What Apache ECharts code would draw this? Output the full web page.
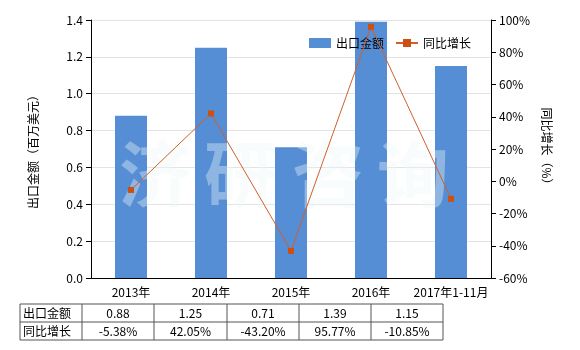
<!DOCTYPE html>
<html><head><meta charset="utf-8">
<script src="https://cdn.jsdelivr.net/npm/echarts@6/dist/echarts.min.js"></script>
<style>html,body{margin:0;padding:0;background:#fff}#c{width:580px;height:350px}</style>
</head><body><div id="c"></div>
<script>
var categories = ['2013年','2014年','2015年','2016年','2017年1-11月'];
var exportValues = [0.88, 1.25, 0.71, 1.39, 1.15];
var growthValues = [-5.38, 42.05, -43.20, 95.77, -10.85];
var leftTicks = {min: 0, max: 1.4, interval: 0.2};
var rightTicks = {min: -60, max: 100, interval: 20};

var FONT = '"Noto Sans CJK SC", "Noto Sans", sans-serif';
var chart = echarts.init(document.getElementById('c'));

// table geometry
var colX = [20, 82, 154, 227, 299, 371, 443];
var rowY = [304, 322, 340];
var g = [];
var lineStyle = {stroke: '#555', lineWidth: 1};
for (var i = 0; i < rowY.length; i++) {
  g.push({type: 'line', shape: {x1: colX[0], y1: rowY[i], x2: colX[colX.length-1], y2: rowY[i]}, style: lineStyle, silent: true});
}
for (var j = 0; j < colX.length; j++) {
  g.push({type: 'line', shape: {x1: colX[j], y1: rowY[0], x2: colX[j], y2: rowY[2]}, style: lineStyle, silent: true});
}
var rowLabels = ['出口金额', '同比增长'];
var rowTexts = [exportValues.map(function(v){return v.toFixed(2);}),
                growthValues.map(function(v){return v.toFixed(2) + '%';})];
for (var r = 0; r < 2; r++) {
  var cy = (rowY[r] + rowY[r+1]) / 2;
  g.push({type: 'text', x: colX[0] + 3, y: cy, style: {text: rowLabels[r], font: '12px ' + FONT, fill: '#000', verticalAlign: 'middle', align: 'left'}, silent: true});
  for (var k = 0; k < 5; k++) {
    g.push({type: 'text', x: (colX[k+1] + colX[k+2]) / 2, y: cy, style: {text: rowTexts[r][k], font: '12px ' + FONT, fill: '#000', verticalAlign: 'middle', align: 'center'}, silent: true});
  }
}
// watermark
var wm = ['济', '研', '咨', '询'];
var wmX = [155, 240, 328, 413];
for (var w = 0; w < wm.length; w++) {
  g.push({type: 'text', x: wmX[w], y: 174, z: 5, style: {text: wm[w], font: 'bold 72px ' + FONT, fill: 'rgba(240,248,248,0.38)', align: 'center', verticalAlign: 'middle'}, silent: true});
}

chart.setOption({
  animation: false,
  textStyle: {fontFamily: FONT},
  grid: {left: 91, right: 89, top: 20, bottom: 72, containLabel: false},
  legend: {
    left: 304, top: 32, itemGap: 11, itemWidth: 22, itemHeight: 10,
    textStyle: {fontSize: 12, color: '#000', fontFamily: FONT},
    data: [{name: '出口金额', icon: 'rect'}, {name: '同比增长'}]
  },
  xAxis: {
    type: 'category', data: categories,
    axisLine: {lineStyle: {color: '#000'}},
    axisTick: {alignWithLabel: true, lineStyle: {color: '#000'}},
    axisLabel: {color: '#000', fontSize: 12, interval: 0, margin: 8}
  },
  yAxis: [{
    type: 'value', min: leftTicks.min, max: leftTicks.max, interval: leftTicks.interval,
    name: '出口金额（百万美元）', nameLocation: 'middle', nameGap: 52, nameRotate: 90,
    nameTextStyle: {fontSize: 12, color: '#000'},
    axisLine: {show: true, lineStyle: {color: '#000'}},
    axisTick: {show: true, lineStyle: {color: '#000'}},
    axisLabel: {color: '#000', fontSize: 12, formatter: function(v){return v.toFixed(1);}},
    splitLine: {show: true, lineStyle: {color: '#e3e3e3'}}
  }, {
    type: 'value', min: rightTicks.min, max: rightTicks.max, interval: rightTicks.interval,
    name: '同比增长（%）', nameLocation: 'middle', nameGap: 50, nameRotate: -90,
    nameTextStyle: {fontSize: 12, color: '#000'},
    axisLine: {show: true, lineStyle: {color: '#000'}},
    axisTick: {show: true, lineStyle: {color: '#000'}},
    axisLabel: {color: '#000', fontSize: 12, formatter: '{value}%'},
    splitLine: {show: false}
  }],
  series: [{
    name: '出口金额', type: 'bar', data: exportValues, barWidth: 32,
    itemStyle: {color: '#558ed5'}
  }, {
    name: '同比增长', type: 'line', yAxisIndex: 1, data: growthValues, z: 10,
    symbol: 'rect', symbolSize: 6,
    lineStyle: {color: '#d0602a', width: 1},
    itemStyle: {color: '#cc4f14'}
  }],
  graphic: g
});
</script></body></html>
